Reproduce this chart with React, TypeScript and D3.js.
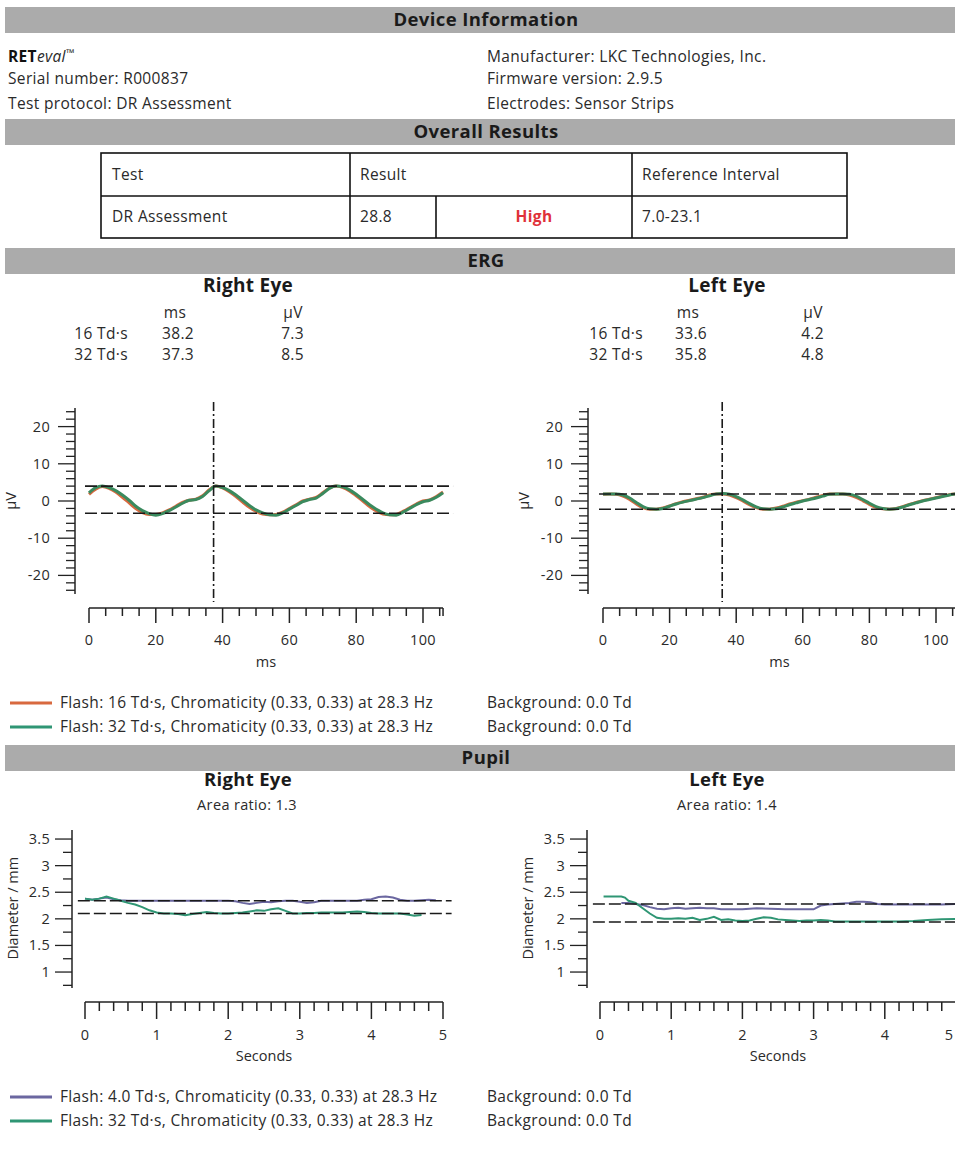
import React from "react";
import * as d3 from "d3";

// ---------- DATA ----------
const deviceLeft = ["Serial number: R000837", "Test protocol: DR Assessment"];
const deviceRight = ["Manufacturer: LKC Technologies, Inc.", "Firmware version: 2.9.5", "Electrodes: Sensor Strips"];
const tableHeader = ["Test", "Result", "Reference Interval"];
const tableRow = { test: "DR Assessment", result: "28.8", flag: "High", ref: "7.0-23.1" };

const ergRightTable = [
  { label: "16 Td·s", ms: "38.2", uv: "7.3" },
  { label: "32 Td·s", ms: "37.3", uv: "8.5" },
];
const ergLeftTable = [
  { label: "16 Td·s", ms: "33.6", uv: "4.2" },
  { label: "32 Td·s", ms: "35.8", uv: "4.8" },
];

const ERG_MS = [0,2,4,6,8,10,12,14,16,18,20,22,24,26,28,30,32,34,36,38,40,42,44,46,48,50,52,54,56,58,60,62,64,66,68,70,72,74,76,78,80,82,84,86,88,90,92,94,96,98,100,102,104,106];
const ergRight16 = [1.8,3.2,3.9,3.4,2.4,1.0,-0.5,-2.0,-3.1,-3.6,-3.6,-3.2,-2.4,-1.4,-0.4,0.2,0.5,1.4,3.0,4.0,3.5,2.5,1.2,-0.3,-1.7,-2.8,-3.5,-3.7,-3.6,-3.0,-2.0,-1.0,0.0,0.5,1.0,2.2,3.5,4.0,3.6,2.7,1.4,0.0,-1.5,-2.7,-3.5,-3.7,-3.6,-2.8,-1.8,-0.8,0.0,0.3,1.2,2.4];
const ergRight32 = [2.2,3.6,4.0,3.6,2.8,1.6,0.2,-1.4,-2.6,-3.4,-3.8,-3.4,-2.6,-1.6,-0.6,0.2,0.4,1.2,2.8,4.0,3.6,2.8,1.6,0.2,-1.2,-2.4,-3.2,-3.7,-3.8,-3.2,-2.2,-1.2,-0.2,0.4,0.8,2.0,3.4,4.0,3.8,3.0,1.8,0.4,-1.0,-2.2,-3.2,-3.7,-3.8,-3.0,-2.0,-1.0,-0.2,0.2,1.0,2.2];
const ergLeft16 = [1.8,1.9,1.8,1.3,0.4,-0.8,-1.8,-2.2,-2.2,-1.9,-1.3,-0.7,-0.2,0.2,0.6,1.0,1.6,1.9,1.9,1.6,0.9,0.0,-1.0,-1.8,-2.2,-2.2,-1.9,-1.4,-0.8,-0.3,0.1,0.5,1.0,1.5,1.9,1.9,1.9,1.6,1.0,0.1,-0.9,-1.7,-2.1,-2.2,-2.0,-1.5,-0.9,-0.4,0.1,0.5,0.9,1.3,1.7,1.9];
const ergLeft32 = [1.9,1.9,1.9,1.6,0.8,-0.4,-1.5,-2.1,-2.2,-2.0,-1.4,-0.8,-0.3,0.1,0.5,0.9,1.4,1.9,2.0,1.8,1.2,0.3,-0.7,-1.6,-2.1,-2.2,-2.1,-1.6,-1.0,-0.5,0.0,0.4,0.8,1.3,1.8,1.9,1.9,1.8,1.3,0.4,-0.6,-1.5,-2.0,-2.2,-2.1,-1.6,-1.0,-0.5,0.0,0.4,0.8,1.2,1.6,1.9];
const ergRightRefs = [4.0, -3.3];
const ergLeftRefs = [1.9, -2.2];
const ergRightImplicit = 37.3;
const ergLeftImplicit = 35.8;
const ergYTicks = [20, 10, 0, -10, -20];
const ergXTicks = [0, 20, 40, 60, 80, 100];

const PUPIL_T = [0,0.1,0.2,0.3,0.4,0.5,0.6,0.7,0.8,0.9,1.0,1.1,1.2,1.3,1.4,1.5,1.6,1.7,1.8,1.9,2.0,2.1,2.2,2.3,2.4,2.5,2.6,2.7,2.8,2.9,3.0,3.1,3.2,3.3,3.4,3.5,3.6,3.7,3.8,3.9,4.0,4.1,4.2,4.3,4.4,4.5,4.6,4.7,4.8,4.9];
const pupilRight4 = [2.38,2.36,2.38,2.40,2.37,2.35,2.34,2.34,2.34,2.34,2.34,2.34,2.34,2.34,2.34,2.34,2.34,2.34,2.34,2.34,2.34,2.33,2.30,2.28,2.30,2.32,2.31,2.33,2.34,2.34,2.32,2.30,2.31,2.34,2.34,2.34,2.34,2.34,2.34,2.36,2.37,2.41,2.42,2.40,2.36,2.34,2.34,2.35,2.36,2.35];
const pupilRight32 = [2.38,2.36,2.38,2.42,2.38,2.34,2.30,2.27,2.22,2.16,2.12,2.10,2.10,2.09,2.07,2.09,2.11,2.13,2.11,2.10,2.10,2.11,2.12,2.14,2.16,2.15,2.18,2.20,2.15,2.10,2.10,2.11,2.11,2.12,2.12,2.12,2.12,2.13,2.14,2.13,2.11,2.10,2.10,2.10,2.10,2.08,2.06,2.07];
const pupilLeft4T = [0.3,0.4,0.5,0.6,0.7,0.8,0.9,1.0,1.1,1.2,1.3,1.4,1.5,1.6,1.7,1.8,1.9,2.0,2.2,2.4,2.6,2.8,3.0,3.1,3.2,3.3,3.4,3.5,3.6,3.7,3.8,3.9,4.0,4.2,4.4,4.6,4.8,5.0];
const pupilLeft4 = [2.30,2.30,2.28,2.26,2.22,2.19,2.18,2.20,2.21,2.19,2.20,2.21,2.20,2.20,2.18,2.18,2.18,2.18,2.20,2.19,2.18,2.18,2.18,2.25,2.27,2.28,2.29,2.30,2.32,2.32,2.31,2.28,2.27,2.27,2.27,2.27,2.27,2.28];
const pupilLeft32T = [0.05,0.1,0.2,0.3,0.35,0.4,0.5,0.6,0.7,0.8,0.9,1.0,1.1,1.2,1.3,1.4,1.5,1.6,1.7,1.8,1.9,2.0,2.1,2.2,2.3,2.4,2.5,2.6,2.7,2.8,2.9,3.0,3.1,3.2,3.3,3.4,3.6,3.8,4.0,4.2,4.4,4.6,4.8,5.0];
const pupilLeft32 = [2.42,2.42,2.42,2.42,2.40,2.34,2.30,2.20,2.10,2.02,2.00,2.00,2.01,2.00,2.02,1.98,2.00,2.04,1.98,1.99,1.97,1.96,1.97,2.00,2.03,2.02,1.99,1.98,1.97,1.96,1.97,1.97,1.98,1.97,1.95,1.95,1.95,1.95,1.95,1.95,1.96,1.98,1.99,2.00];
const pupilRightRefs = [2.34, 2.10];
const pupilLeftRefs = [2.28, 1.94];
const pupilYTicks = [3.5, 3, 2.5, 2, 1.5, 1];
const pupilXTicks = [0, 1, 2, 3, 4, 5];

const ergLegend = [
  { color: "#d8693f", text: "Flash: 16 Td·s, Chromaticity (0.33, 0.33) at 28.3 Hz", bg: "Background: 0.0 Td" },
  { color: "#2f9674", text: "Flash: 32 Td·s, Chromaticity (0.33, 0.33) at 28.3 Hz", bg: "Background: 0.0 Td" },
];
const pupilLegend = [
  { color: "#6b67a0", text: "Flash: 4.0 Td·s, Chromaticity (0.33, 0.33) at 28.3 Hz", bg: "Background: 0.0 Td" },
  { color: "#2f9674", text: "Flash: 32 Td·s, Chromaticity (0.33, 0.33) at 28.3 Hz", bg: "Background: 0.0 Td" },
];

// ---------- STYLE ----------
const FONT = "'Open Sans', 'Noto Sans', sans-serif";
const TXT = "#2a2a2a";
const BAR = "#ababab";
const ORANGE = "#d8693f";
const GREEN = "#3a8a5e";
const TEAL = "#2f9674";
const PURPLE = "#6b67a0";
const BODY = 15.5;
const LS = 0.35;
const TICK = 14.5;

function SectionBar({ y, label }: { y: number; label: string }) {
  return (
    <g>
      <rect x={5} y={y} width={955} height={26} fill={BAR} />
      <text x={486} y={y + 19} textAnchor="middle" fontWeight="bold" fontSize={18.5} letterSpacing={0.4} fill="#1a1a1a">{label}</text>
    </g>
  );
}

function ErgChart({ axisX, x0, pxPer, s16, s32, refs, implicit }: any) {
  const x = d3.scaleLinear().domain([0, 106]).range([x0, x0 + 106 * pxPer]);
  const y = d3.scaleLinear().domain([-25, 25]).range([594, 408]);
  const line = d3.line<number>().x((_, i) => x(ERG_MS[i])).y((d) => y(d)).curve(d3.curveMonotoneX);
  const minor = d3.range(-24, 25, 2);
  const xMinor = d3.range(0, 106, 5);
  const axisY = 608;
  return (
    <g fontFamily={FONT}>
      <line x1={axisX} x2={axisX} y1={408} y2={594} stroke="#222" strokeWidth={1.5} />
      {minor.map((v) => (
        <line key={"ym" + v} x1={axisX - (v % 10 === 0 ? 17 : 9)} x2={axisX} y1={y(v)} y2={y(v)} stroke="#222" strokeWidth={1.3} />
      ))}
      {ergYTicks.map((v) => (
        <text key={"yl" + v} x={axisX - 25} y={y(v) + 5} textAnchor="end" fontSize={TICK} letterSpacing={0.3} fill={TXT}>{v}</text>
      ))}
      <text transform={`translate(${axisX - 59},${y(0)}) rotate(-90)`} textAnchor="middle" fontSize={TICK} fill={TXT}>µV</text>
      <line x1={x(0)} x2={x(106)} y1={axisY} y2={axisY} stroke="#222" strokeWidth={1.5} />
      {xMinor.map((v) => (
        <line key={"xm" + v} x1={x(v)} x2={x(v)} y1={axisY} y2={axisY + (v % 20 === 0 ? 15 : 8)} stroke="#222" strokeWidth={1.5} />
      ))}
      <line x1={x(106)} x2={x(106)} y1={axisY} y2={axisY + 8} stroke="#222" strokeWidth={1.5} />
      {ergXTicks.map((v) => (
        <text key={"xl" + v} x={x(v)} y={axisY + 37} textAnchor="middle" fontSize={TICK} letterSpacing={0.3} fill={TXT}>{v}</text>
      ))}
      <text x={x(53)} y={axisY + 59} textAnchor="middle" fontSize={TICK} fill={TXT}>ms</text>
      <path d={line(s16) || ""} fill="none" stroke={ORANGE} strokeWidth={3} />
      <path d={line(s32) || ""} fill="none" stroke={GREEN} strokeWidth={3} />
      {refs.map((r: number, i: number) => (
        <line key={"r" + i} x1={x(-1.2)} x2={x(109)} y1={y(r)} y2={y(r)} stroke="#1a1a1a" strokeWidth={1.6} strokeDasharray="12,4" />
      ))}
      <line x1={x(implicit)} x2={x(implicit)} y1={402} y2={602} stroke="#1a1a1a" strokeWidth={1.6} strokeDasharray="9,3,2,3" />
    </g>
  );
}

function PupilChart({ axisX, x0, pxPer, purpleT, purple, greenT, green, refs }: any) {
  const x = d3.scaleLinear().domain([0, 5]).range([x0, x0 + 5 * pxPer]);
  const y = d3.scaleLinear().domain([0.7, 3.67]).range([988, 830]);
  const line = d3.line<[number, number]>().x((d) => x(d[0])).y((d) => y(d[1]));
  const yMinor = d3.range(0.75, 3.6, 0.25);
  const xMinor = d3.range(0, 5.01, 0.2);
  const axisY = 1002;
  const pp = purple.map((v: number, i: number) => [purpleT[i], v] as [number, number]);
  const gp = green.map((v: number, i: number) => [greenT[i], v] as [number, number]);
  return (
    <g fontFamily={FONT}>
      <line x1={axisX} x2={axisX} y1={830} y2={988} stroke="#222" strokeWidth={1.5} />
      {yMinor.map((v) => (
        <line key={"ym" + v} x1={axisX - (Math.abs((v * 2) % 1) < 0.01 ? 17 : 9)} x2={axisX} y1={y(v)} y2={y(v)} stroke="#222" strokeWidth={1.3} />
      ))}
      {pupilYTicks.map((v) => (
        <text key={"yl" + v} x={axisX - 22} y={y(v) + 5} textAnchor="end" fontSize={TICK} letterSpacing={0.3} fill={TXT}>{v}</text>
      ))}
      <text transform={`translate(${axisX - 54},${y(2.2)}) rotate(-90)`} textAnchor="middle" fontSize={TICK} fill={TXT}>Diameter / mm</text>
      <line x1={x(0)} x2={x(5)} y1={axisY} y2={axisY} stroke="#222" strokeWidth={1.5} />
      {xMinor.map((v) => (
        <line key={"xm" + v} x1={x(v)} x2={x(v)} y1={axisY} y2={axisY + (Math.abs(v - Math.round(v)) < 0.01 ? 17 : 9)} stroke="#222" strokeWidth={1.5} />
      ))}
      {pupilXTicks.map((v) => (
        <text key={"xl" + v} x={Math.min(x(v), 949)} y={axisY + 38} textAnchor="middle" fontSize={TICK} fill={TXT}>{v}</text>
      ))}
      <text x={x(2.5)} y={axisY + 59} textAnchor="middle" fontSize={TICK} fill={TXT}>Seconds</text>
      <path d={line(pp) || ""} fill="none" stroke={PURPLE} strokeWidth={2} />
      <path d={line(gp) || ""} fill="none" stroke={TEAL} strokeWidth={2} />
      {refs.map((r: number, i: number) => (
        <line key={"r" + i} x1={x(-0.1)} x2={x(5.12)} y1={y(r)} y2={y(r)} stroke="#1a1a1a" strokeWidth={1.5} strokeDasharray="12,4" />
      ))}
    </g>
  );
}

function Legend({ y, items }: { y: number; items: typeof ergLegend }) {
  return (
    <g fontFamily={FONT} fontSize={BODY} letterSpacing={LS} fill={TXT}>
      {items.map((it, i) => (
        <g key={i}>
          <line x1={10} x2={52} y1={y + i * 24} y2={y + i * 24} stroke={it.color} strokeWidth={3} />
          <text x={60} y={y + i * 24 + 5}>{it.text}</text>
          <text x={487} y={y + i * 24 + 5}>{it.bg}</text>
        </g>
      ))}
    </g>
  );
}

function ErgTable({ labelX, msX, uvX, rows }: any) {
  return (
    <g fontFamily={FONT} fontSize={BODY} letterSpacing={LS} fill={TXT}>
      <text x={msX + 13} y={318} textAnchor="middle">ms</text>
      <text x={uvX + 13} y={318} textAnchor="middle">µV</text>
      {rows.map((r: any, i: number) => (
        <g key={i}>
          <text x={labelX} y={339 + i * 21} textAnchor="end">{r.label}</text>
          <text x={msX} y={339 + i * 21}>{r.ms}</text>
          <text x={uvX + 24} y={339 + i * 21} textAnchor="end">{r.uv}</text>
        </g>
      ))}
    </g>
  );
}

export default function App() {
  return (
    <svg width={955} height={1149} style={{ position: "absolute", left: 0, top: 0, background: "#fff" }} fontFamily={FONT}>
      <rect x={0} y={0} width={955} height={1149} fill="#fff" />
      <SectionBar y={7} label="Device Information" />
      <g fontSize={BODY} letterSpacing={LS} fill={TXT}>
        <text x={8} y={62}>
          <tspan fontWeight="bold" fill="#111">RET</tspan>
          <tspan fontStyle="italic">eval</tspan>
          <tspan fontSize={11} dy={-5}>™</tspan>
        </text>
        {deviceLeft.map((t, i) => (
          <text key={t} x={8} y={84 + i * 25}>{t}</text>
        ))}
        {deviceRight.map((t, i) => (
          <text key={t} x={487} y={[62, 84, 109][i]}>{t}</text>
        ))}
      </g>
      <SectionBar y={119} label="Overall Results" />
      <g fontSize={BODY} letterSpacing={LS} fill={TXT}>
        <rect x={101} y={153} width={746} height={85} fill="none" stroke="#111" strokeWidth={1.6} />
        <line x1={101} x2={847} y1={196} y2={196} stroke="#111" strokeWidth={1.6} />
        <line x1={350} x2={350} y1={153} y2={238} stroke="#111" strokeWidth={1.6} />
        <line x1={632} x2={632} y1={153} y2={238} stroke="#111" strokeWidth={1.6} />
        <line x1={436} x2={436} y1={196} y2={238} stroke="#111" strokeWidth={1.6} />
        <text x={112} y={180}>{tableHeader[0]}</text>
        <text x={360} y={180}>{tableHeader[1]}</text>
        <text x={642} y={180}>{tableHeader[2]}</text>
        <text x={112} y={222}>{tableRow.test}</text>
        <text x={360} y={222}>{tableRow.result}</text>
        <text x={534} y={222} textAnchor="middle" fill="#e0323a" fontWeight="bold">{tableRow.flag}</text>
        <text x={642} y={222}>{tableRow.ref}</text>
      </g>
      <SectionBar y={248} label="ERG" />
      <text x={248} y={292} textAnchor="middle" fontWeight="bold" fontSize={19} letterSpacing={0.3} fill="#1a1a1a">Right Eye</text>
      <text x={727} y={292} textAnchor="middle" fontWeight="bold" fontSize={19} letterSpacing={0.3} fill="#1a1a1a">Left Eye</text>
      <ErgTable labelX={128} msX={162} uvX={280} rows={ergRightTable} />
      <ErgTable labelX={643} msX={675} uvX={800} rows={ergLeftTable} />
      <ErgChart axisX={75} x0={89} pxPer={3.34} s16={ergRight16} s32={ergRight32} refs={ergRightRefs} implicit={ergRightImplicit} />
      <ErgChart axisX={588} x0={603} pxPer={3.33} s16={ergLeft16} s32={ergLeft32} refs={ergLeftRefs} implicit={ergLeftImplicit} />
      <Legend y={703} items={ergLegend} />
      <SectionBar y={745} label="Pupil" />
      <text x={248} y={786} textAnchor="middle" fontWeight="bold" fontSize={18.5} letterSpacing={0.3} fill="#1a1a1a">Right Eye</text>
      <text x={727} y={786} textAnchor="middle" fontWeight="bold" fontSize={18.5} letterSpacing={0.3} fill="#1a1a1a">Left Eye</text>
      <text x={247} y={810} textAnchor="middle" fontSize={14.5} letterSpacing={LS} fill={TXT}>Area ratio: 1.3</text>
      <text x={727} y={810} textAnchor="middle" fontSize={14.5} letterSpacing={LS} fill={TXT}>Area ratio: 1.4</text>
      <PupilChart axisX={72} x0={85} pxPer={71.6} purpleT={PUPIL_T} purple={pupilRight4} greenT={PUPIL_T} green={pupilRight32} refs={pupilRightRefs} />
      <PupilChart axisX={587} x0={600} pxPer={71.2} purpleT={pupilLeft4T} purple={pupilLeft4} greenT={pupilLeft32T} green={pupilLeft32} refs={pupilLeftRefs} />
      <Legend y={1097} items={pupilLegend} />
    </svg>
  );
}
